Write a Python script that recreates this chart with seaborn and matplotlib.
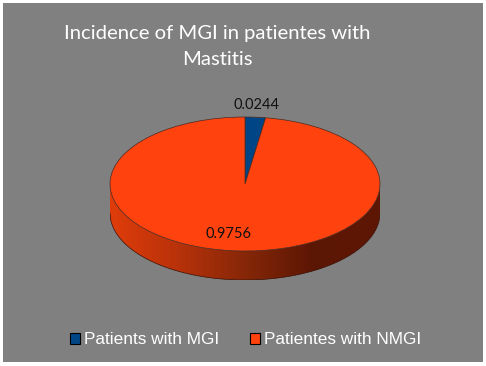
import numpy as np
import seaborn as sns
import matplotlib.pyplot as plt
from matplotlib.colors import LinearSegmentedColormap
from matplotlib.patches import Patch

categories = ["Patients with MGI", "Patientes with NMGI"]
values = [0.0244, 0.9756]
value_labels = ["0.0244", "0.9756"]
title = "Incidence of MGI in patientes with\nMastitis"

gray = "#808080"
colors = sns.color_palette(["#004586", "#ff420e"])
wall_colors = ["#e03c0b", "#b8320a", "#862708", "#5c1604", "#5f1704"]

sns.set_theme(style="white")
plt.rcParams["font.family"] = ["Lato", "DejaVu Sans"]

W, H = 486, 366
fig = plt.figure(figsize=(W / 100, H / 100), dpi=100, facecolor="white")

# gray panel with thin white edge
bg = fig.add_axes([3 / W, 4 / H, 480 / W, 359 / H])
bg.set_facecolor(gray)
bg.set_xticks([])
bg.set_yticks([])
for s in bg.spines.values():
    s.set_visible(False)

# pie axes, stretched so the circle comes out as an ellipse
cx, cy, rx, ry = 245, 184, 135, 67
depth = 29 / ry
ax = fig.add_axes([(cx - rx) / W, (H - cy - ry - 29) / H, 2 * rx / W, (2 * ry + 29) / H])
ax.patch.set_alpha(0)

# side wall of the disc, gradient clipped to the lower rim
x = np.linspace(-1, 1, 400)
rim = -np.sqrt(1 - x ** 2)
wall = ax.fill_between(x, rim, rim - depth, color="none")
cmap = LinearSegmentedColormap.from_list("wall", wall_colors)
im = ax.imshow(np.linspace(0, 1, 256)[None, :], cmap=cmap, extent=[-1, 1, -1 - depth, 0], zorder=1)
im.set_clip_path(wall.get_paths()[0], transform=ax.transData)
ax.plot(x, rim - depth, color="#3a1005", lw=0.5, zorder=1.5)
ax.plot([1, 1], [0, -depth], color="#3a1005", lw=0.5, zorder=1.5)

# top of the disc
ax.pie(values, colors=colors, startangle=90, counterclock=False, radius=1,
       wedgeprops={"edgecolor": "#4a2a20", "linewidth": 0.5, "zorder": 2})
ax.set_aspect("auto")
ax.set_xlim(-1, 1)
ax.set_ylim(-1 - depth, 1)

# value labels
fig.text(256 / W, 1 - 105 / H, value_labels[0], ha="center", va="center", fontsize=10.5, color="#111111")
fig.text(228 / W, 1 - 234 / H, value_labels[1], ha="center", va="center", fontsize=10.5, color="#111111")

# title
fig.text(217 / W, 1 - 46.5 / H, title, ha="center", va="center", color="white", fontsize=14.6, linespacing=1.65)

# legend
handles = [Patch(facecolor=c, edgecolor="black", linewidth=0.8) for c in colors]
fig.legend(handles, categories, loc="center", bbox_to_anchor=(245.5 / W, 1 - 340 / H), ncol=2, frameon=False,
           prop={"family": "Liberation Sans", "size": 12.4}, labelcolor="white", handlelength=0.58,
           handleheight=0.58, handletextpad=0.25, columnspacing=1.75)

fig.savefig("out.png", dpi=100, facecolor="white")
